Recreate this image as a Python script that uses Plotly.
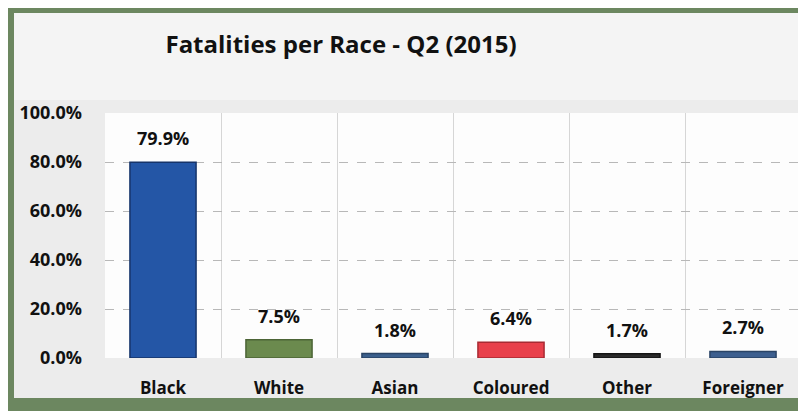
import plotly.graph_objects as go

races = ["Black", "White", "Asian", "Coloured", "Other", "Foreigner"]
share = [79.9, 7.5, 1.8, 6.4, 1.7, 2.7]
bar_colors = ["#2456a6", "#6b8a4e", "#3b5f8c", "#e8404b", "#2a2a2a", "#3d5f8f"]
edge_colors = ["#16346a", "#4c6436", "#2a4466", "#a82a33", "#151515", "#2a4466"]
y_ticks = [0, 20, 40, 60, 80, 100]

# the page body has an 8px margin, so the figure is drawn 8px in from the corner
OFF = 8
W, H = 806 - OFF, 411 - OFF
L, R, T, B = 105 - OFF, 5, 113 - OFF, 53
PW, PH = W - L - R, H - T - B


def px(x, y):
    # screenshot pixel position -> paper coordinates of the plot area
    return (x - OFF - L) / PW, (H - B - (y - OFF)) / PH


def rect(x0, y0, x1, y1, color):
    a, b = px(x0, y0)
    c, d = px(x1, y1)
    return dict(type="rect", xref="paper", yref="paper", x0=a, y0=d, x1=c, y1=b,
                fillcolor=color, line=dict(width=0), layer="below")


font = "Open Sans"
fig = go.Figure()
fig.add_trace(go.Bar(x=races, y=share, width=0.57,
                     marker=dict(color=bar_colors, line=dict(color=edge_colors, width=1.5)),
                     hoverinfo="x+y"))

for r, v in zip(races, share):
    fig.add_annotation(x=r, y=v, text=f"{v:.1f}%", showarrow=False, yanchor="bottom", yshift=10,
                       font=dict(family=font, size=18, color="#111111", weight="bold"))

fig.update_layout(
    width=W, height=H, margin=dict(l=L, r=R, t=T, b=B),
    paper_bgcolor="white", plot_bgcolor="rgba(0,0,0,0)",
    showlegend=False,
    title=dict(text="<b>Fatalities per Race - Q2 (2015)</b>", x=(341 - OFF) / W, xanchor="center",
               y=1 - (45 - OFF) / H, yanchor="middle", xref="container", yref="container",
               font=dict(family=font, size=24, color="#111111")),
    shapes=[rect(-10, 5, 820, 420, "#6c8760"),
            rect(803, 13, 820, 398, "#f4f4f4"),
            rect(14, 13, 803, 398, "#ececec"),
            rect(14, 13, 803, 100, "#f4f4f4"),
            rect(105, 113, 801, 358, "#fdfdfd")],
)
fig.update_xaxes(type="category", tickson="boundaries", showgrid=True, gridcolor="#d6d6d6", gridwidth=1,
                 ticks="", showline=False, ticklabelstandoff=18,
                 tickfont=dict(family=font, size=17, color="#111111", weight="bold"))
fig.update_yaxes(range=[0, 100], tickvals=y_ticks, ticktext=[f"{t:.1f}%" for t in y_ticks],
                 showgrid=True, gridcolor="#b8b8b8", griddash="dash", gridwidth=1,
                 zeroline=False, showline=False, ticks="", ticklabelstandoff=22,
                 tickfont=dict(family=font, size=18, color="#111111", weight="bold"))

fig.write_html("out.html")
